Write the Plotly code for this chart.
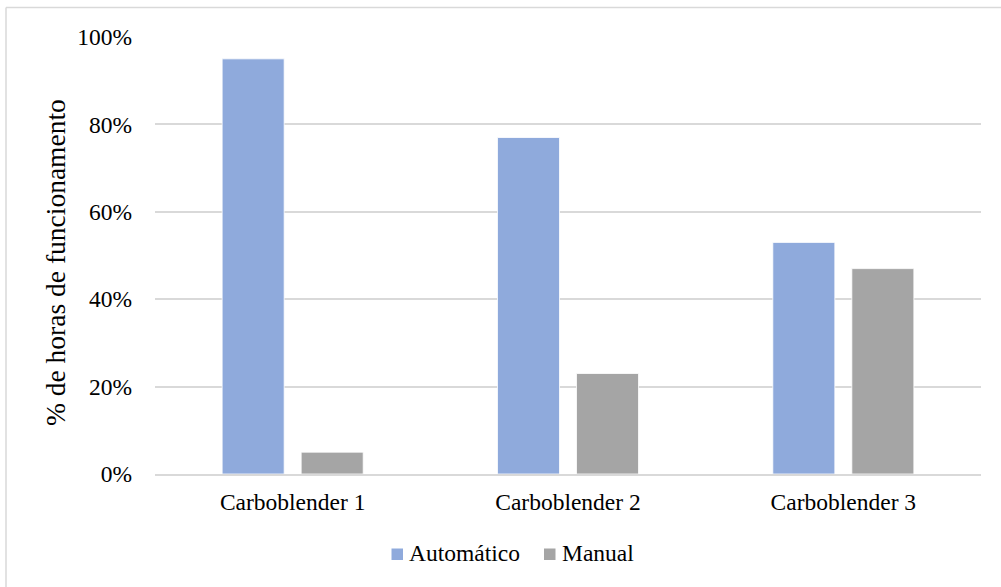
import plotly.graph_objects as go

categories = ["Carboblender 1", "Carboblender 2", "Carboblender 3"]
automatico = [0.95, 0.77, 0.53]
manual = [0.05, 0.23, 0.47]
y_ticks = [0, 0.2, 0.4, 0.6, 0.8, 1.0]
y_tick_labels = ["0%", "20%", "40%", "60%", "80%", "100%"]
series_names = ["Automático", "Manual"]
series_colors = ["#8FAADC", "#A5A5A5"]

FONT = "Liberation Serif"
FS = 23.5
W, H = 1001, 587
L, R, T, B = 155, 20, 37, 113
pw = W - L - R
ph = H - T - B


def px_x(x):
    """Pixel column -> paper x."""
    return (x - L) / pw


def px_y(y):
    """Pixel row -> paper y."""
    return (H - B - y) / ph


fig = go.Figure()
for name, vals, col in zip(series_names, [automatico, manual], series_colors):
    fig.add_trace(go.Bar(
        name=name, x=categories, y=vals,
        marker=dict(color=col, line=dict(color="#ffffff", width=0.8)),
    ))

# y-axis title
fig.add_annotation(
    text="% de horas de funcionamento", textangle=-90,
    xref="paper", yref="paper", x=px_x(55), y=px_y(263),
    xanchor="center", yanchor="middle", showarrow=False,
    font=dict(family=FONT, size=27.5, color="#000000"),
)

# legend: colour swatch + series name
legend_swatch_x = [391.5, 544]
for sx, name, col in zip(legend_swatch_x, series_names, series_colors):
    fig.add_shape(type="rect", xref="paper", yref="paper",
                  x0=px_x(sx), x1=px_x(sx + 11.5),
                  y0=px_y(548.5), y1=px_y(560),
                  fillcolor=col, line=dict(width=0))
    fig.add_annotation(
        text=name, xref="paper", yref="paper",
        x=px_x(sx + 15.5), y=px_y(553), xanchor="left", yanchor="middle",
        showarrow=False, font=dict(family=FONT, size=FS, color="#000000"),
    )

# outer chart frame (top and left edges)
fig.add_shape(type="line", xref="paper", yref="paper",
              x0=px_x(6), x1=px_x(W + 5), y0=px_y(7.5), y1=px_y(7.5),
              line=dict(color="#d9d9d9", width=1.5))
fig.add_shape(type="line", xref="paper", yref="paper",
              x0=px_x(6), x1=px_x(6), y0=px_y(7.5), y1=px_y(H + 5),
              line=dict(color="#d9d9d9", width=1.5))

fig.update_layout(
    width=W, height=H,
    margin=dict(l=L, r=R, t=T, b=B),
    paper_bgcolor="white", plot_bgcolor="white",
    barmode="group", bargap=0.426, bargroupgap=0.215,
    font=dict(family=FONT, size=FS, color="#000000"),
    showlegend=False,
    xaxis=dict(
        showgrid=False, showline=True, linecolor="#d9d9d9", linewidth=1.5,
        ticks="", ticklabelstandoff=6,
        tickfont=dict(family=FONT, size=FS, color="#000000"),
    ),
    yaxis=dict(
        range=[0, 1.0], tickvals=y_ticks, ticktext=y_tick_labels,
        showgrid=True, gridcolor="#d9d9d9", gridwidth=1.5,
        zeroline=False, showline=False, ticks="", ticklabelstandoff=22,
        tickfont=dict(family=FONT, size=FS, color="#000000"),
    ),
)

fig.write_html("out.html")
